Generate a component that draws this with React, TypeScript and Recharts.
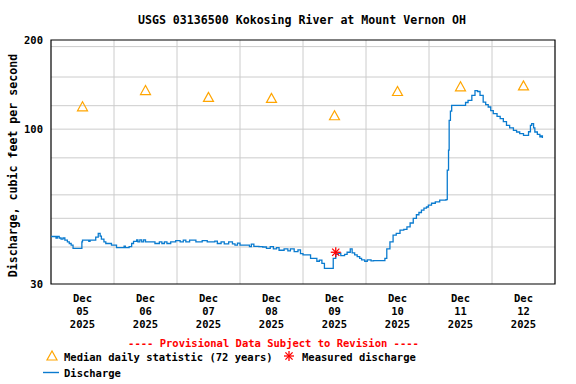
import {
  CartesianGrid,
  ComposedChart,
  Line,
  ReferenceArea,
  Scatter,
  XAxis,
  YAxis,
} from 'recharts'

// days since Dec 05 00:00 (local)
const DISCHARGE_DAYS = [
  0.0, 0.06, 0.08, 0.1, 0.13, 0.16, 0.19, 0.22, 0.26, 0.29, 0.32, 0.35, 0.46, 0.49, 0.5, 0.58,
  0.6, 0.62, 0.67, 0.71, 0.75, 0.78, 0.8, 0.84, 0.87, 0.94, 0.96, 1.02, 1.04, 1.14, 1.16, 1.18,
  1.24, 1.28, 1.31, 1.34, 1.36, 1.38, 1.41, 1.44, 1.47, 1.5, 1.62, 1.65, 1.7, 1.72, 1.76, 1.8,
  1.84, 1.9, 1.95, 1.98, 2.02, 2.05, 2.1, 2.14, 2.2, 2.3, 2.35, 2.4, 2.48, 2.55, 2.6, 2.64, 2.7,
  2.75, 2.82, 2.88, 2.92, 2.96, 3.0, 3.1, 3.15, 3.18, 3.22, 3.3, 3.36, 3.42, 3.48, 3.53, 3.58,
  3.62, 3.7, 3.76, 3.8, 3.86, 3.92, 3.96, 4.0, 4.08, 4.12, 4.18, 4.22, 4.26, 4.3, 4.34, 4.46,
  4.48, 4.52, 4.56, 4.6, 4.66, 4.7, 4.75, 4.78, 4.82, 4.86, 4.9, 4.93, 4.98, 5.02, 5.08, 5.12,
  5.26, 5.3, 5.33, 5.38, 5.43, 5.48, 5.54, 5.6, 5.65, 5.7, 5.75, 5.8, 5.84, 5.88, 5.92, 5.96,
  5.99, 6.04, 6.1, 6.17, 6.27, 6.29, 6.31, 6.32, 6.34, 6.36, 6.54, 6.58, 6.62, 6.68, 6.73, 6.77,
  6.81, 6.86, 6.9, 6.94, 6.98, 7.02, 7.08, 7.13, 7.18, 7.23, 7.28, 7.34, 7.39, 7.44, 7.5, 7.55,
  7.58, 7.61, 7.63, 7.66, 7.68, 7.72, 7.76, 7.78, 7.8,
]
const DISCHARGE_CFS = [
  43.4, 43.4, 42.9, 43.4, 42.9, 42.5, 42.9, 42.2, 41.6, 41.1, 40.6, 39.6, 39.6, 41.6, 42.2, 42.2,
  41.8, 42.2, 42.2, 43.2, 44.5, 43.5, 42.5, 41.6, 41.1, 41.1, 40.6, 40.6, 39.8, 39.8, 40.3, 39.8,
  40.1, 41.1, 41.8, 41.8, 42.3, 41.6, 42.3, 41.6, 42.3, 41.6, 41.6, 41.1, 41.1, 41.6, 41.1, 41.6,
  41.1, 41.6, 41.6, 42.0, 42.0, 41.6, 42.2, 41.6, 42.2, 41.6, 41.6, 42.0, 41.6, 41.6, 41.9, 41.1,
  41.6, 41.0, 41.6, 41.0, 40.6, 41.2, 40.6, 40.6, 40.1, 40.9, 40.2, 40.1, 40.0, 39.6, 40.1, 39.4,
  39.8, 39.0, 39.4, 38.8, 39.4, 38.6, 39.1, 38.0, 37.6, 37.6, 36.6, 36.6, 35.8, 36.1, 35.2, 33.9,
  33.9, 36.6, 37.8, 38.1, 37.4, 37.8, 38.4, 39.4, 38.2, 37.6, 37.1, 36.6, 36.2, 35.8, 36.2, 35.9,
  36.0, 36.0, 36.6, 39.4, 41.6, 43.9, 44.5, 45.6, 45.9, 46.8, 48.2, 50.0, 51.4, 52.3, 53.3, 54.1,
  54.6, 55.4, 56.2, 56.8, 57.6, 57.8, 72.7, 84.9, 107, 115, 120.3, 120.3, 123, 125, 130, 135, 134,
  130, 123.4, 121, 118.8, 115.5, 112.8, 110.5, 108.5, 106, 103, 101, 99.1, 97.8, 96.6, 95.3, 95.3,
  98, 103, 104.4, 101, 97.8, 96.0, 94.1, 94.8, 93.4,
]

const MEDIAN_DAYS = [0.5, 1.5, 2.5, 3.5, 4.5, 5.5, 6.5, 7.5]
const MEDIAN_CFS = [119, 135, 128, 127, 111, 134, 139, 140]

const MEASURED_DAYS = [4.52]
const MEASURED_CFS = [38.4]

const DAY_LABELS = ['05', '06', '07', '08', '09', '10', '11', '12']
const DAY_BOUNDS = [1, 2, 3, 4, 5, 6, 7]
const Y_TICKS = [30, 100, 200]
const Y_GRID = [40, 50, 60, 70, 80, 90, 100, 110, 120, 130, 140, 150, 160, 170, 180, 190]

const FONT = '"DejaVu Sans Mono", monospace'
const BLUE = '#0a7bcf'

const discharge = DISCHARGE_DAYS.map((d, i) => ({ day: d, q: DISCHARGE_CFS[i] }))
const medians = MEDIAN_DAYS.map((d, i) => ({ day: d, q: MEDIAN_CFS[i] }))
const measured = MEASURED_DAYS.map((d, i) => ({ day: d, q: MEASURED_CFS[i] }))

function Triangle({ cx, cy }: { cx?: number; cy?: number }) {
  if (cx == null || cy == null) return null
  return (
    <polygon
      points={`${cx},${cy - 5} ${cx - 5},${cy + 4} ${cx + 5},${cy + 4}`}
      fill="none"
      stroke="#ffa500"
      strokeWidth={1.2}
    />
  )
}

function Star({ cx, cy }: { cx?: number; cy?: number }) {
  if (cx == null || cy == null) return null
  const r = 5
  const d = 3.6
  return (
    <g stroke="#ff0000" strokeWidth={1.3}>
      <line x1={cx - r} y1={cy} x2={cx + r} y2={cy} />
      <line x1={cx} y1={cy - r} x2={cx} y2={cy + r} />
      <line x1={cx - d} y1={cy - d} x2={cx + d} y2={cy + d} />
      <line x1={cx - d} y1={cy + d} x2={cx + d} y2={cy - d} />
    </g>
  )
}

function DateTick({ x, y, payload }: { x?: number; y?: number; payload?: { value: number } }) {
  if (x == null || y == null || !payload) return null
  const lbl = DAY_LABELS[Math.floor(payload.value)]
  return (
    <text x={x} textAnchor="middle" fontFamily={FONT} fontWeight="bold" fontSize={10.5} fill="#000">
      <tspan x={x} y={302}>Dec</tspan>
      <tspan x={x} y={315}>{lbl}</tspan>
      <tspan x={x} y={328}>2025</tspan>
    </text>
  )
}

export default function App() {
  return (
    <div style={{ position: 'absolute', left: 0, top: 0, width: 576, height: 384, background: '#fff' }}>
      <ComposedChart width={576} height={384} margin={{ top: 40, right: 21, bottom: 0, left: 0 }}>
        <CartesianGrid
          stroke="#cccccc"
          horizontalValues={Y_GRID}
          verticalValues={DAY_BOUNDS}
        />
        <XAxis
          type="number"
          dataKey="day"
          domain={[0, 8]}
          ticks={MEDIAN_DAYS}
          allowDataOverflow
          height={100}
          tickLine={false}
          axisLine={false}
          tick={<DateTick />}
        />
        <YAxis
          type="number"
          dataKey="q"
          scale="log"
          domain={[30, 200]}
          ticks={Y_TICKS}
          allowDataOverflow
          width={51}
          tickLine={false}
          axisLine={false}
          tick={{ fontFamily: FONT, fontWeight: 'bold', fontSize: 10.5, fill: '#000' }}
        />
        <ReferenceArea x1={0} x2={8} y1={30} y2={200} fill="none" stroke="#000" strokeWidth={1.2} />
        <Line
          data={discharge}
          dataKey="q"
          type="stepAfter"
          stroke={BLUE}
          strokeWidth={1.3}
          dot={false}
          isAnimationActive={false}
        />
        <Scatter data={medians} dataKey="q" shape={<Triangle />} isAnimationActive={false} />
        <Scatter data={measured} dataKey="q" shape={<Star />} isAnimationActive={false} />
      </ComposedChart>
      <svg
        width={576}
        height={384}
        style={{ position: 'absolute', left: 0, top: 0, pointerEvents: 'none' }}
        fontFamily={FONT}
        fontWeight="bold"
      >
        <text x={302} y={24} textAnchor="middle" fontSize={11.6}>
          USGS 03136500 Kokosing River at Mount Vernon OH
        </text>
        <text x={17} y={165.5} textAnchor="middle" fontSize={11.6} transform="rotate(-90 17 165.5)">
          Discharge, cubic feet per second
        </text>
        <text x={273.5} y={347} textAnchor="middle" fontSize={10.5} fill="#ff0000">
          ---- Provisional Data Subject to Revision ----
        </text>
        <polygon points="52,351 47,360 57,360" fill="none" stroke="#ffa500" strokeWidth={1.2} />
        <text x={64} y={361} fontSize={10.5}>Median daily statistic (72 years)</text>
        <g stroke="#ff0000" strokeWidth={1.3}>
          <line x1={284} y1={356} x2={294} y2={356} />
          <line x1={289} y1={351} x2={289} y2={361} />
          <line x1={285.4} y1={352.4} x2={292.6} y2={359.6} />
          <line x1={285.4} y1={359.6} x2={292.6} y2={352.4} />
        </g>
        <text x={302} y={361} fontSize={10.5}>Measured discharge</text>
        <line x1={43} y1={372.5} x2={59} y2={372.5} stroke={BLUE} strokeWidth={1.4} />
        <text x={64} y={377} fontSize={10.5}>Discharge</text>
      </svg>
    </div>
  )
}
